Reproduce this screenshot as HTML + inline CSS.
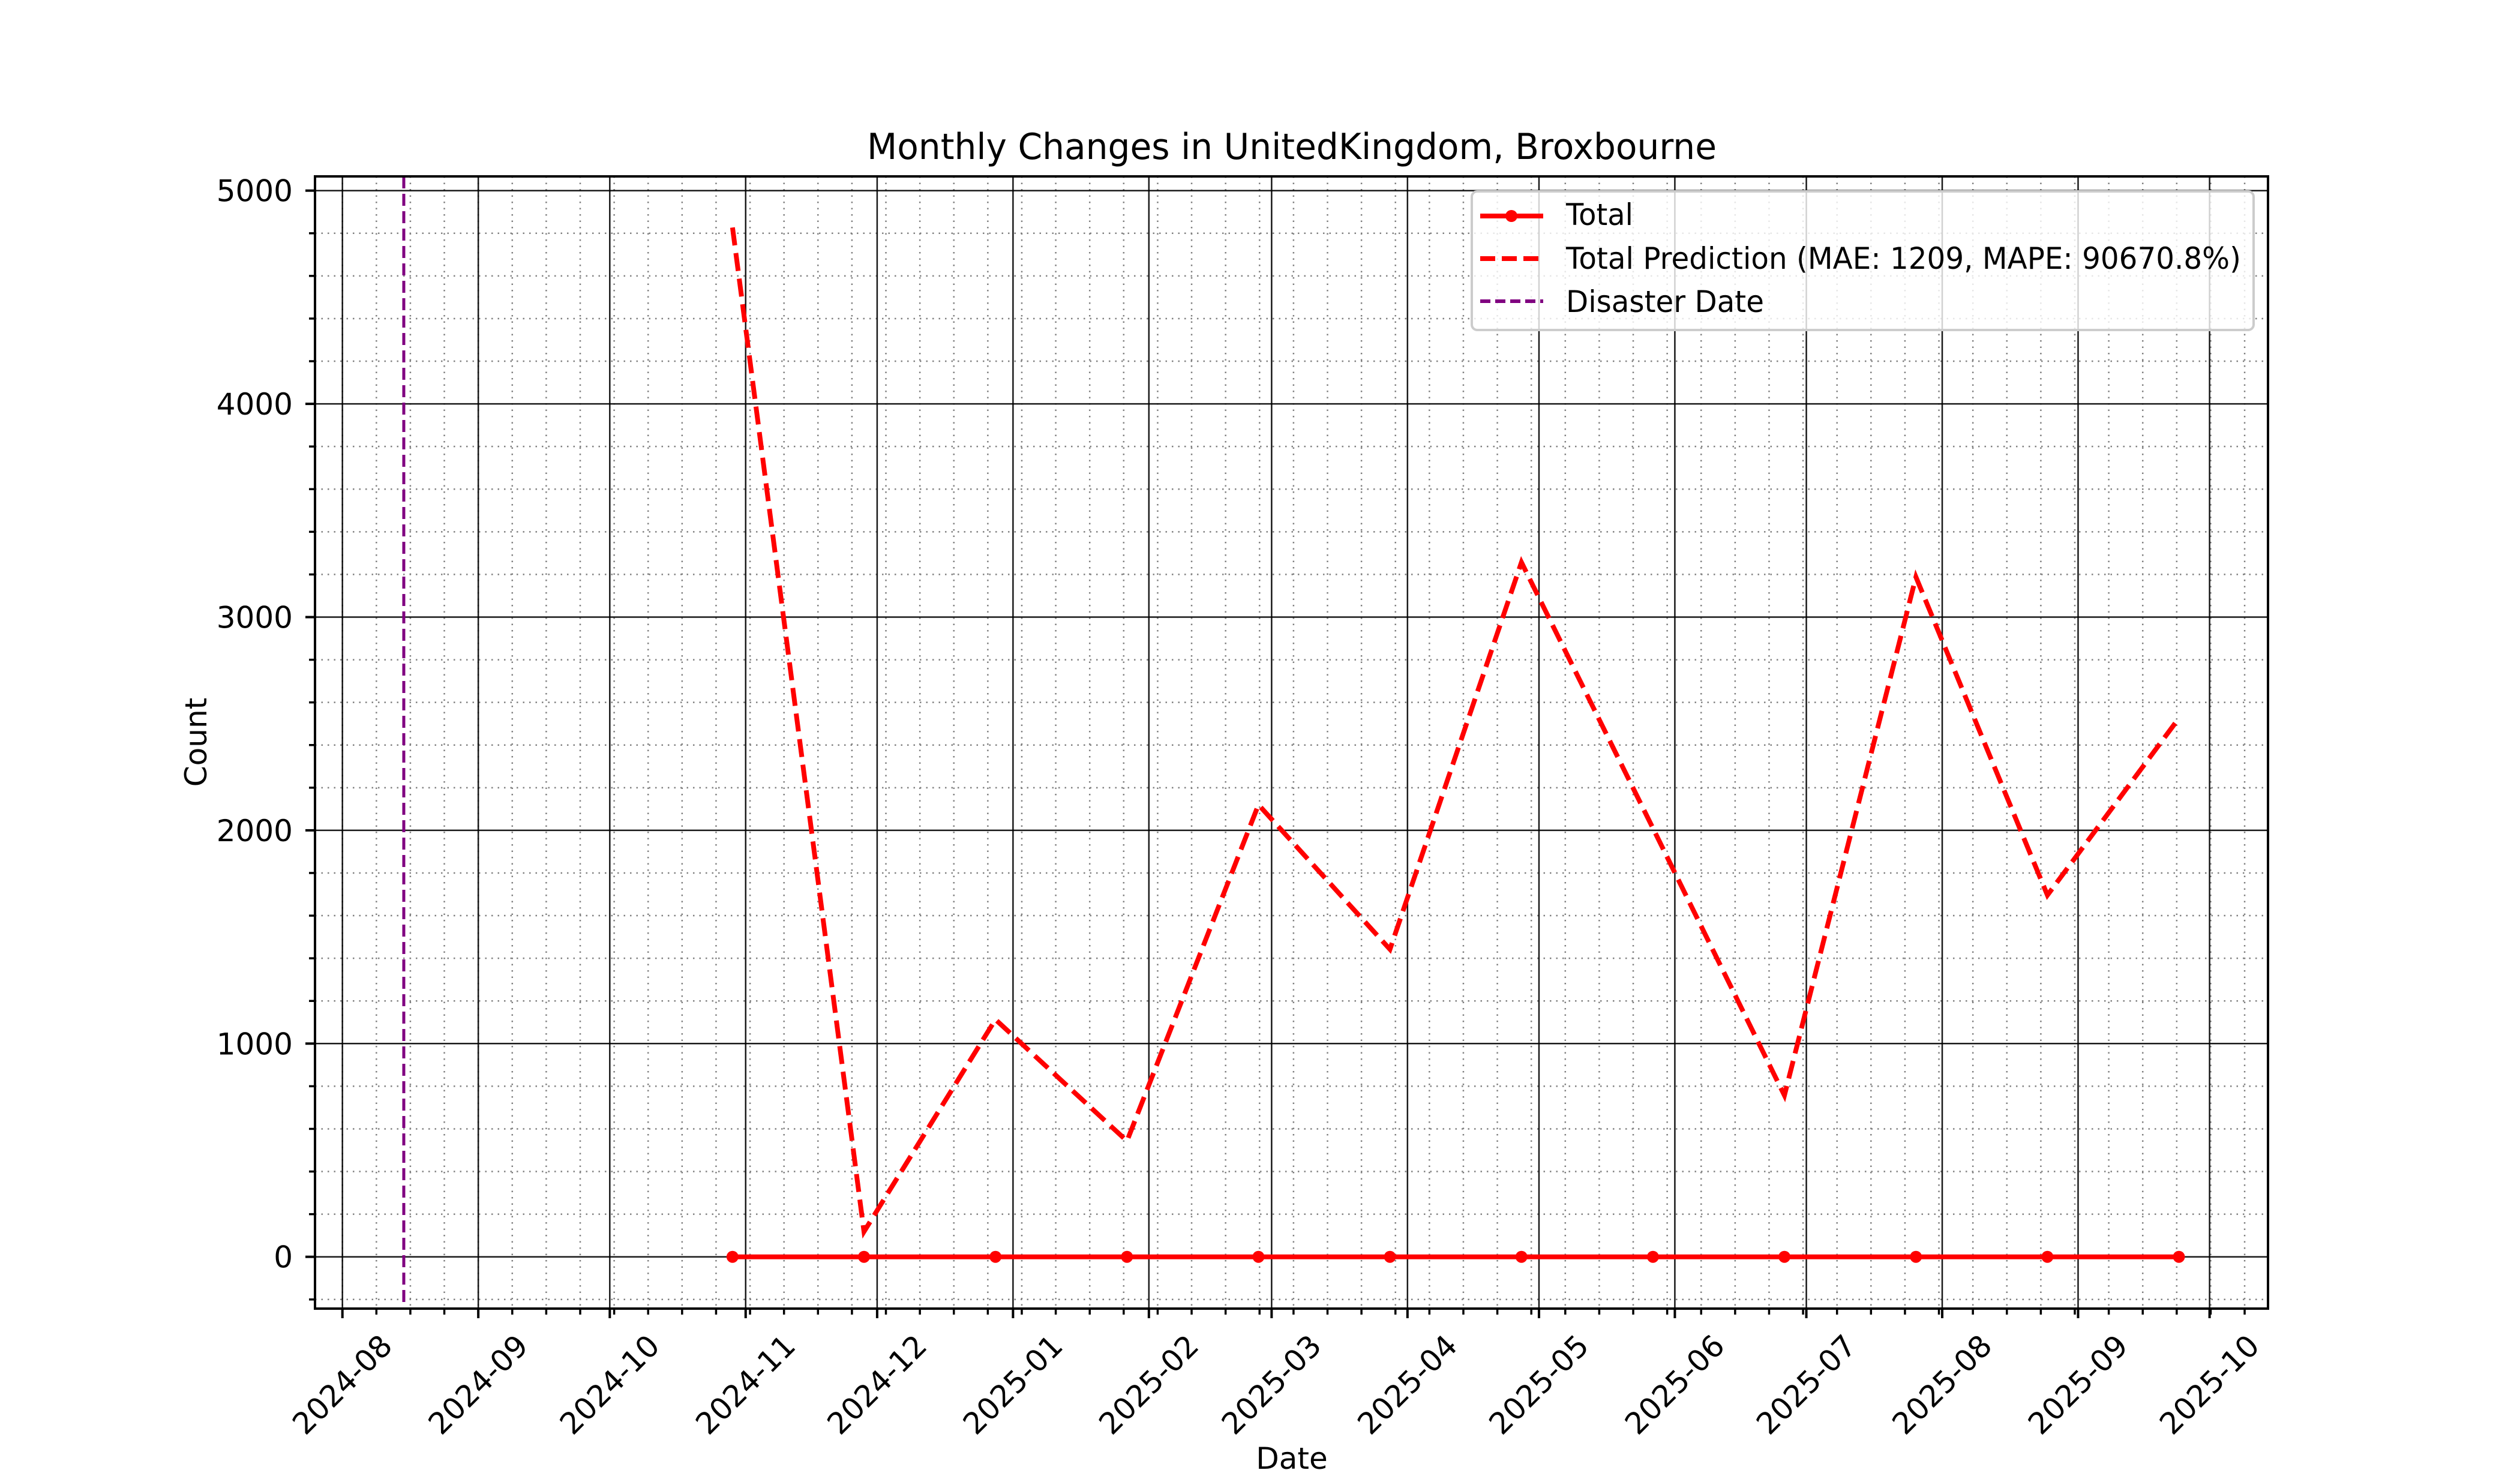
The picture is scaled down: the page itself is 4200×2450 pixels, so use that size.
<!DOCTYPE html>
<html><head><meta charset="utf-8"><style>
html,body{margin:0;padding:0;background:#fff;}
svg{display:block;font-family:"DejaVu Sans","Liberation Sans",sans-serif;}
</style></head><body>
<svg id="chart" width="4200" height="2450" viewBox="0 0 4200 2450" xmlns="http://www.w3.org/2000/svg">
<rect width="4200" height="2450" fill="#fff"/>
<g id="grid"></g>
<g id="series"></g>
<g id="axes"></g>
<text x="2153" y="265" font-size="60" text-anchor="middle" textLength="1416" lengthAdjust="spacingAndGlyphs">Monthly Changes in UnitedKingdom, Broxbourne</text>
<text x="2153" y="2448" font-size="50" text-anchor="middle">Date</text>
<text x="0" y="0" font-size="50" text-anchor="middle" transform="translate(344,1237) rotate(-90)">Count</text>
<g id="legend">
<rect x="2453" y="319" width="1303" height="231" rx="9" fill="#fff" fill-opacity="0.8" stroke="#ccc" stroke-width="4"/>
<g>
<line x1="2467" y1="360" x2="2572" y2="360" stroke="#f00" stroke-width="8"/>
<circle cx="2519" cy="360" r="10" fill="#f00"/>
<text x="2610" y="375" font-size="50" textLength="112" lengthAdjust="spacingAndGlyphs">Total</text>
</g>
<g>
<line x1="2467" y1="431" x2="2572" y2="431" stroke="#f00" stroke-width="8" stroke-dasharray="25,11"/>
<text x="2610" y="448" font-size="50" textLength="1125" lengthAdjust="spacingAndGlyphs">Total Prediction (MAE: 1209, MAPE: 90670.8%)</text>
</g>
<g>
<line x1="2467" y1="502" x2="2572" y2="502" stroke="#800080" stroke-width="6" stroke-dasharray="17,8"/>
<text x="2610" y="520" font-size="50" textLength="330" lengthAdjust="spacingAndGlyphs">Disaster Date</text>
</g>
</g>
</svg>
<script>
const dates = ["2024-10-29","2024-11-28","2024-12-28","2025-01-27","2025-02-26","2025-03-28","2025-04-27","2025-05-27","2025-06-26","2025-07-26","2025-08-25","2025-09-24"];
const totalValues = [0,0,0,0,0,0,0,0,0,0,0,0];
const predictionValues = [4827,118,1113,543,2120,1442,3257,2010,757,3188,1696,2526];
const disasterDate = "2024-08-15";
const yTicks = [0,1000,2000,3000,4000,5000];
const xTickLabels = ["2024-08","2024-09","2024-10","2024-11","2024-12","2025-01","2025-02","2025-03","2025-04","2025-05","2025-06","2025-07","2025-08","2025-09","2025-10"];

const NS="http://www.w3.org/2000/svg";
const L=525,R=3780,T=294,B=2181;
const origin=Date.UTC(2024,7,1), DAY=86400000, PXD=7.305, X0=570.7;
function dayOf(s){const p=s.split("-").map(Number);return (Date.UTC(p[0],p[1]-1,p[2]||1)-origin)/DAY;}
function xs(s){return X0+dayOf(s)*PXD;}
function ys(v){return 2094.7-v*0.35540;}
function mk(tag,attrs,parent){const e=document.createElementNS(NS,tag);for(const k in attrs)e.setAttribute(k,attrs[k]);parent.appendChild(e);return e;}
const grid=document.getElementById('grid'),series=document.getElementById('series'),axes=document.getElementById('axes');

for(let d=0;X0+d*PXD<=R;d+=7.75){const x=X0+d*PXD;if(x<L)continue;
 const g=mk('line',{x1:x,y1:T,x2:x,y2:B,stroke:'#808080','stroke-width':2.5,'stroke-dasharray':'2.5,8'},grid);
 
 
 const t=mk('line',{x1:x,y1:B,x2:x,y2:B+10,stroke:'#000','stroke-width':3.5},axes);
 
 }
for(let v=-200;v<=5000;v+=200){if(v%1000===0)continue;const y=ys(v);if(y>B||y<T)continue;
 const g=mk('line',{x1:L,y1:y,x2:R,y2:y,stroke:'#808080','stroke-width':2.5,'stroke-dasharray':'2.5,8'},grid);
 
 
 const t=mk('line',{x1:L-10,y1:y,x2:L,y2:y,stroke:'#000','stroke-width':3.5},axes);
 
 }
xTickLabels.forEach(lbl=>{const x=xs(lbl+"-01");
 const g=mk('line',{x1:x,y1:T,x2:x,y2:B,stroke:'#000','stroke-width':2.5,'stroke-opacity':0.9},grid);
 
 
 const t=mk('line',{x1:x,y1:B,x2:x,y2:B+16,stroke:'#000','stroke-width':4},axes);
 
 
 const tx=mk('text',{x:0,y:0,'font-size':50,'text-anchor':'middle','dominant-baseline':'central',transform:`translate(${x},2308) rotate(-45)`},axes);
 tx.textContent=lbl;
 
 });
yTicks.forEach(v=>{const y=ys(v);
 const g=mk('line',{x1:L,y1:y,x2:R,y2:y,stroke:'#000','stroke-width':2.5,'stroke-opacity':0.9},grid);
 
 
 const t=mk('line',{x1:L-16,y1:y,x2:L,y2:y,stroke:'#000','stroke-width':4},axes);
 
 
 const tx=mk('text',{x:488,y:y+18,'font-size':50,'text-anchor':'end'},axes);
 tx.textContent=String(v);
 
 });
const dx=xs(disasterDate);
const dl=mk('line',{x1:dx,y1:T,x2:dx,y2:B,stroke:'#800080','stroke-width':5,'stroke-dasharray':'20,9'},series);


const tp=mk('polyline',{points:dates.map((d,i)=>xs(d)+','+ys(totalValues[i])).join(' '),fill:'none',stroke:'#f00','stroke-width':8},series);


dates.forEach((d,i)=>{const c=mk('circle',{cx:xs(d),cy:ys(totalValues[i]),r:10,fill:'#f00'},series);
 
 });
const pp=mk('polyline',{points:dates.map((d,i)=>xs(d)+','+ys(predictionValues[i])).join(' '),fill:'none',stroke:'#f00','stroke-width':8,'stroke-dasharray':'30,13'},series);


const sp=mk('rect',{x:L,y:T,width:R-L,height:B-T,fill:'none',stroke:'#000','stroke-width':4},axes);


</script>
</body></html>
